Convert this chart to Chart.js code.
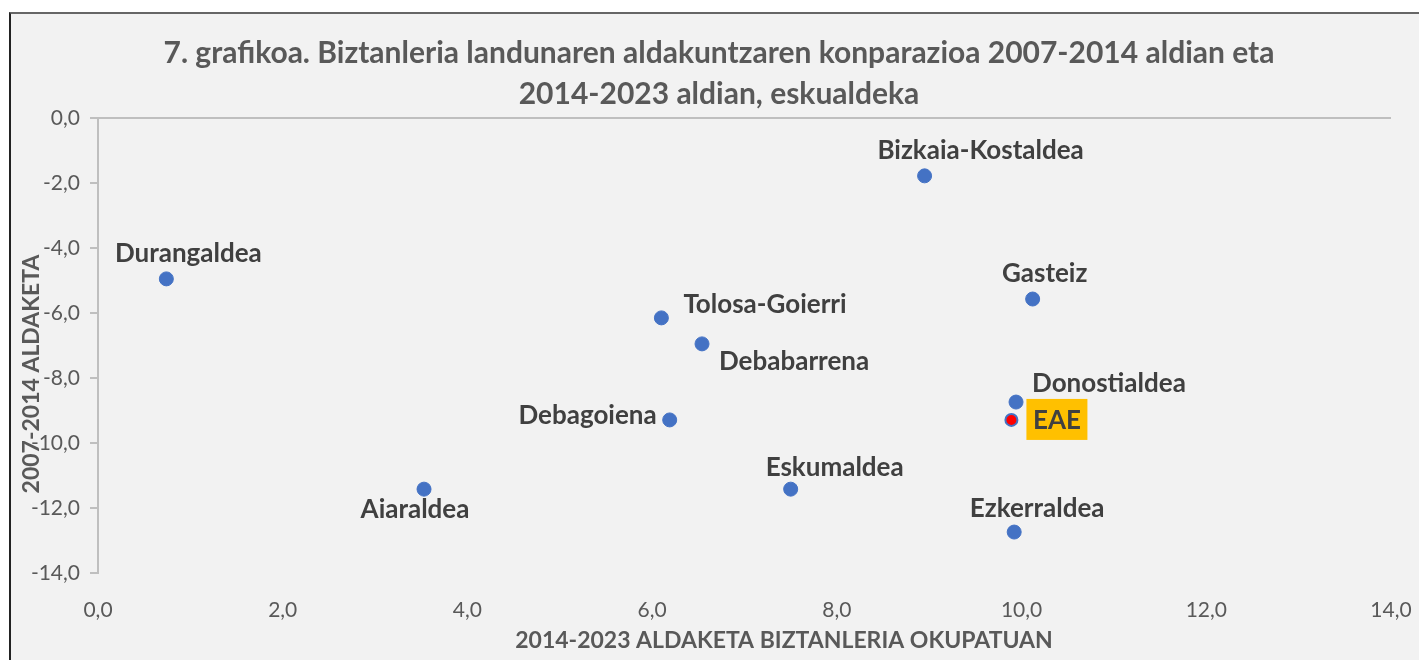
<!DOCTYPE html>
<html>
<head>
<meta charset="utf-8">
<script src="https://cdn.jsdelivr.net/npm/chart.js@4"></script>
<style>
  html, body { margin: 0; padding: 0; background: #fff; overflow: hidden; width: 1419px; height: 660px; }
  #frame {
    position: absolute; left: 9px; top: 12px; width: 1410px; height: 648px;
    background: #f2f2f2; border-left: 2px solid #222; border-top: 2px solid #666;
    box-sizing: border-box;
  }
  #wrap { position: absolute; left: 0; top: 0; width: 1419px; height: 660px; }
</style>
</head>
<body>
<div id="frame"></div>
<div id="wrap"><canvas id="scatterChart"></canvas></div>
<script>
'use strict';

// eskualdeak
const regions = ['Durangaldea', 'Bizkaia-Kostaldea', 'Gasteiz', 'Tolosa-Goierri', 'Debabarrena',
  'Donostialdea', 'Debagoiena', 'Eskumaldea', 'Aiaraldea', 'Ezkerraldea'];
// 2014-2023 aldaketa biztanleria okupatuan (x)
const change2014_2023 = [0.74, 8.95, 10.12, 6.10, 6.54, 9.94, 6.19, 7.50, 3.53, 9.92];
// 2007-2014 aldaketa (y)
const change2007_2014 = [-4.95, -1.78, -5.57, -6.15, -6.95, -8.74, -9.29, -11.42, -11.42, -12.74];

const totalLabel = 'EAE';
const totalX = [9.89];
const totalY = [-9.29];

const xTicks = [0, 2, 4, 6, 8, 10, 12, 14];
const yTicks = [0, -2, -4, -6, -8, -10, -12, -14];

const titleLines = ['7. grafikoa. Biztanleria landunaren aldakuntzaren konparazioa 2007-2014 aldian eta',
  '2014-2023 aldian, eskualdeka'];
const xTitle = '2014-2023 ALDAKETA BIZTANLERIA OKUPATUAN';
const yTitle = '2007-2014 ALDAKETA';

// label placement relative to the point: [dx, dy, align]
const labelPlace = [
  [22, -25, 'center'], [56, -25, 'center'], [12, -25, 'center'], [22, -13, 'left'],
  [17, 18, 'left'], [16, -18, 'left'], [-13, -4, 'right'], [44, -22, 'center'],
  [-9, 20, 'center'], [23, -23, 'center']
];

const FONT = 'Lato, "Open Sans", sans-serif';
const fmt = v => Number(v).toFixed(1).replace('.', ',');

const textPlugin = {
  id: 'textPlugin',
  afterDraw(chart) {
    const ctx = chart.ctx;
    ctx.save();
    ctx.fillStyle = '#595959';
    ctx.textBaseline = 'middle';
    ctx.textAlign = 'center';
    ctx.font = 'bold 30px ' + FONT;
    ctx.fillText(titleLines[0], 719, 53);
    ctx.fillText(titleLines[1], 719, 94);

    ctx.font = 'bold 23px ' + FONT;
    ctx.fillText(xTitle, 784, 641);
    ctx.save();
    ctx.translate(32, 374);
    ctx.rotate(-Math.PI / 2);
    ctx.fillText(yTitle, 0, 0);
    ctx.restore();

    // point labels
    ctx.fillStyle = '#404040';
    ctx.font = 'bold 26px ' + FONT;
    const pts = chart.getDatasetMeta(0).data;
    pts.forEach((p, i) => {
      const [dx, dy, al] = labelPlace[i];
      ctx.textAlign = al;
      ctx.fillText(regions[i], p.x + dx, p.y + dy);
    });

    // EAE box
    const e = chart.getDatasetMeta(1).data[0];
    const bx = e.x + 15, by = e.y - 21;
    ctx.fillStyle = '#ffc000';
    ctx.fillRect(bx, by, 61, 41);
    ctx.fillStyle = '#404040';
    ctx.textAlign = 'center';
    ctx.fillText(totalLabel, bx + 30.5, e.y + 1);
    ctx.restore();
  }
};

document.addEventListener('DOMContentLoaded', () => {
  const ctx = document.getElementById('scatterChart').getContext('2d');
  new Chart(ctx, {
    type: 'scatter',
    data: {
      datasets: [{
        label: 'Eskualdeak',
        data: regions.map((r, i) => ({ x: change2014_2023[i], y: change2007_2014[i] })),
        backgroundColor: '#4472c4',
        borderColor: '#4472c4',
        pointRadius: 7,
        pointHoverRadius: 7,
      }, {
        label: totalLabel,
        data: totalX.map((x, i) => ({ x: x, y: totalY[i] })),
        backgroundColor: '#ff0000',
        borderColor: '#4472c4',
        borderWidth: 2,
        pointRadius: 6,
        pointHoverRadius: 6,
      }],
    },
    options: {
      responsive: true,
      maintainAspectRatio: false,
      animation: false,
      layout: { padding: { left: 0, right: 28, top: 118, bottom: 0 } },
      plugins: {
        legend: { display: false },
        tooltip: { enabled: false },
      },
      scales: {
        x: {
          type: 'linear', min: 0, max: 14,
          afterBuildTicks: s => { s.ticks = xTicks.map(v => ({ value: v })); },
          afterFit: s => { s.height = 87; s.paddingLeft = 0; s.paddingRight = 0; },
          border: { display: false },
          grid: { display: false },
          ticks: {
            padding: 17, color: '#595959', font: { family: FONT, size: 21 },
            callback: v => fmt(v),
          },
        },
        y: {
          type: 'linear', min: -14, max: 0,
          afterBuildTicks: s => { s.ticks = yTicks.map(v => ({ value: v })); },
          afterFit: s => { s.width = 98; s.paddingTop = 0; s.paddingBottom = 0; },
          border: { display: true, color: '#bfbfbf', width: 2 },
          grid: {
            color: c => (c.tick && c.tick.value === 0 ? '#bfbfbf' : 'rgba(0,0,0,0)'),
            lineWidth: 2,
            tickLength: 8,
            tickColor: '#bfbfbf',
          },
          ticks: {
            padding: 10, color: '#595959', font: { family: FONT, size: 21 },
            callback: v => fmt(v),
          },
        },
      },
    },
    plugins: [textPlugin],
  });
});
</script>
</body>
</html>
